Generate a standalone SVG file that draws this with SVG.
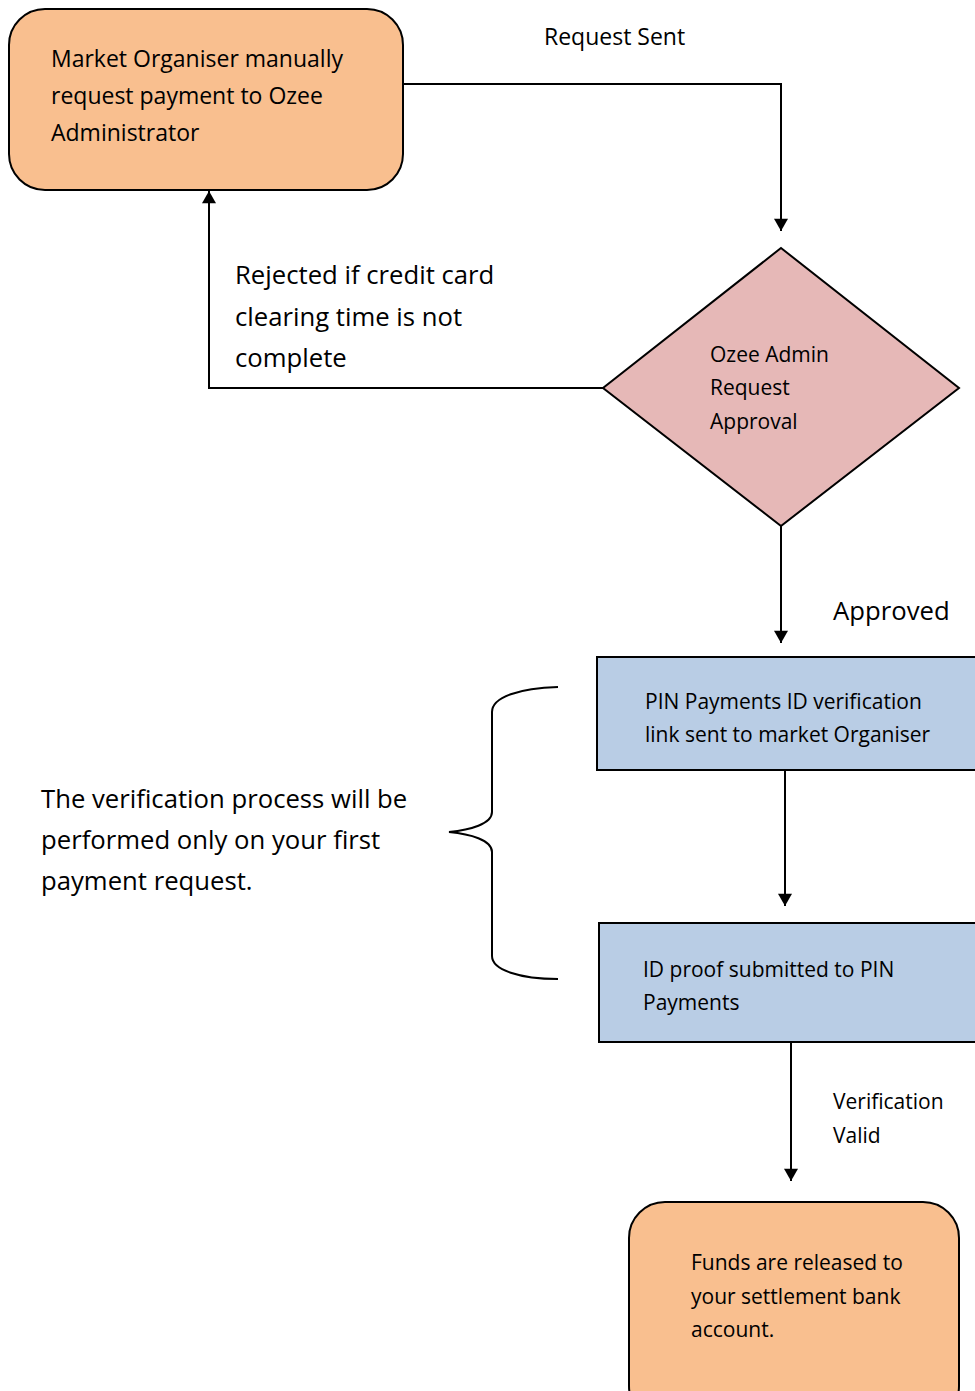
<svg xmlns="http://www.w3.org/2000/svg" width="975" height="1391" viewBox="0 0 975 1391">
<defs>
<marker id="arr" viewBox="0 0 14 16" refX="14" refY="8" markerWidth="16" markerHeight="14" markerUnits="userSpaceOnUse" orient="auto">
<path d="M0,0 L14,8 L0,16 z" fill="#000"/>
</marker>
<style>
.t{font-family:"Open Sans","Liberation Sans",sans-serif;fill:#000;}
.s{font-size:21px;}
.m{font-size:23px;}
.l{font-size:25.7px;}
.c{fill:none;stroke:#000;stroke-width:2;}
.orange{fill:#F9BF8F;stroke:#000;stroke-width:2;}
.pink{fill:#E6B8B7;stroke:#000;stroke-width:2;}
.blue{fill:#B9CDE5;stroke:#000;stroke-width:2;}
</style>
</defs>
<rect width="975" height="1391" fill="#fff"/>
<g id="connectors">
<path class="c" d="M403,84 H781 V231" marker-end="url(#arr)"/>
<path class="c" d="M603,388 H209 V191" marker-end="url(#arr)"/>
<path class="c" d="M781,526 V643" marker-end="url(#arr)"/>
<path class="c" d="M785,770 V906" marker-end="url(#arr)"/>
<path class="c" d="M791,1042 V1181" marker-end="url(#arr)"/>
</g>
<g id="n1">
<rect class="orange" x="9" y="9" width="394" height="181" rx="36"/>
<text class="t m" x="51" y="67">Market Organiser manually</text>
<text class="t m" x="51" y="104">request payment to Ozee</text>
<text class="t m" x="51" y="141">Administrator</text>
</g>
<g id="lbl-sent"><text class="t m" x="544" y="45">Request Sent</text></g>
<g id="lbl-reject">
<text class="t l" x="235" y="284">Rejected if credit card</text>
<text class="t l" x="235" y="326">clearing time is not</text>
<text class="t l" x="235" y="367">complete</text>
</g>
<g id="n2">
<polygon class="pink" points="781,248 959,388 781,526 603,388"/>
<text class="t s" x="710" y="362">Ozee Admin</text>
<text class="t s" x="710" y="395">Request</text>
<text class="t s" x="710" y="429">Approval</text>
</g>
<g id="lbl-approved"><text class="t l" x="833" y="620">Approved</text></g>
<g id="n3">
<rect class="blue" x="597" y="657" width="390" height="113"/>
<text class="t s" x="645" y="709">PIN Payments ID verification</text>
<text class="t s" x="645" y="742">link sent to market Organiser</text>
</g>
<g id="brace">
<path class="c" d="M558,687 C520,688 492,697 492,712 V812 C492,824 470,830 449,832 C470,834 492,840 492,852 V956 C492,970 520,979 558,979"/>
<text class="t l" x="41" y="808">The verification process will be</text>
<text class="t l" x="41" y="849">performed only on your first</text>
<text class="t l" x="41" y="890">payment request.</text>
</g>
<g id="n4">
<rect class="blue" x="599" y="923" width="390" height="119"/>
<text class="t s" x="643" y="977">ID proof submitted to PIN</text>
<text class="t s" x="643" y="1010">Payments</text>
</g>
<g id="lbl-valid">
<text class="t s" x="833" y="1109">Verification</text>
<text class="t s" x="833" y="1143">Valid</text>
</g>
<g id="n5">
<rect class="orange" x="629" y="1202" width="330" height="220" rx="36"/>
<text class="t s" x="691" y="1270">Funds are released to</text>
<text class="t s" x="691" y="1304">your settlement bank</text>
<text class="t s" x="691" y="1337">account.</text>
</g>
</svg>
